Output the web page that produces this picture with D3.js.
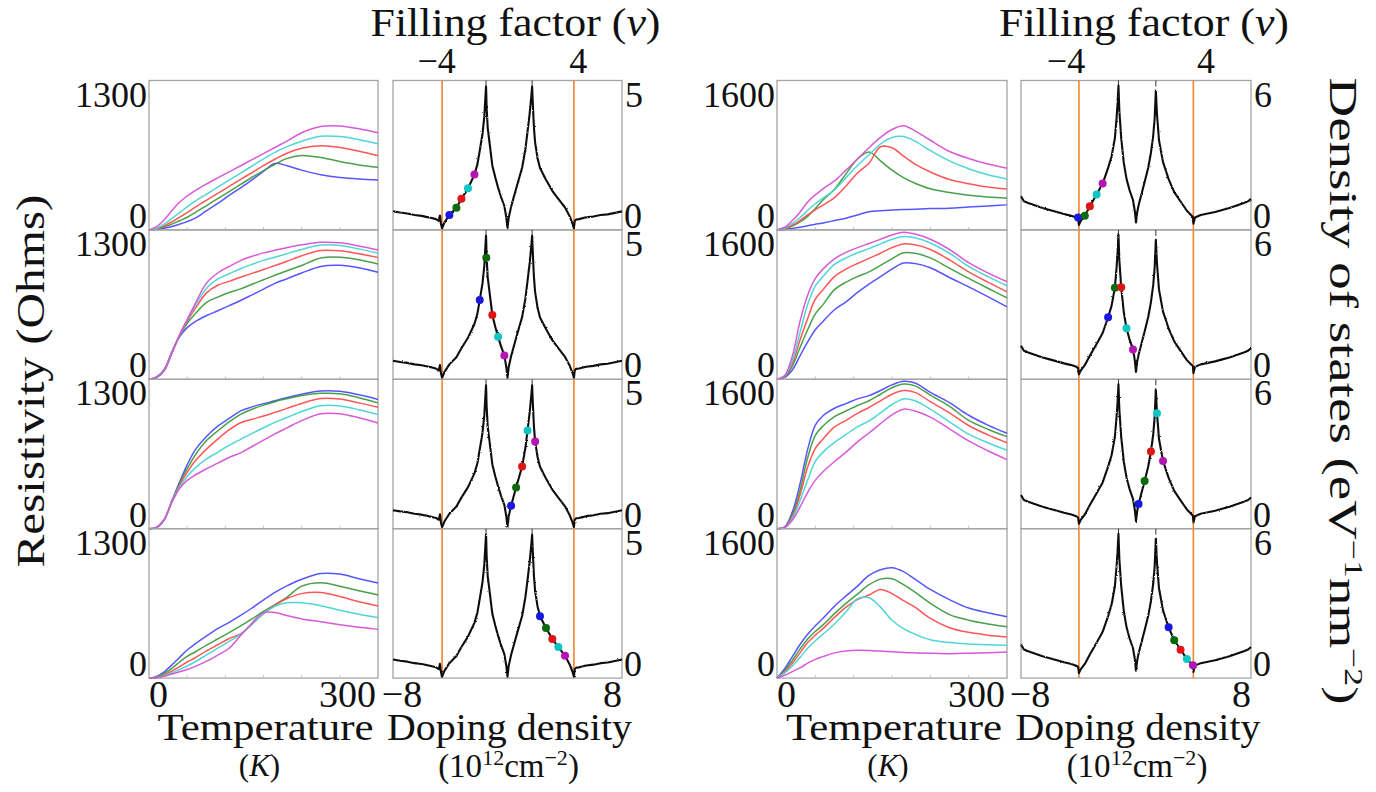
<!DOCTYPE html>
<html><head><meta charset="utf-8">
<script src="https://cdn.jsdelivr.net/npm/d3@7"></script>
<style>
body{margin:0;background:#fff}
svg{display:block}
text{font-family:'Liberation Serif','Times New Roman',Times,serif;fill:#111}
</style>
</head><body>
<svg id="c" width="1376" height="792"></svg>
<script>
// ---------------- DATA ----------------
const temps = [0,10,20,30,40,50,60,75,90,105,120,135,150,165,180,200,225,250,275,300];
const seriesNames = ["blue","green","red","cyan","magenta"];
const lineColors = ["#4d4dff","#3f9b3f","#ff4d4d","#48d4d4","#d651d6"];
const dotColors  = ["#1818e0","#0b6a0b","#e01414","#10c4c4","#b414b4"];

// Left group resistivity (Ohms), rows 1-4; each: blue, green, red, cyan, magenta
const resLeft1 = [
 [0,5,15,30,50,72,100,165,230,300,366,435,510,578,560,520,480,455,442,435],
 [0,8,25,50,80,110,148,210,272,334,396,458,515,570,620,648,630,595,565,545],
 [0,10,35,70,110,150,196,257,317,378,439,499,560,615,665,710,732,718,685,648],
 [0,15,50,100,150,200,248,310,372,433,495,556,618,675,722,772,815,812,785,750],
 [0,28,88,168,240,295,340,398,452,505,558,611,664,717,770,845,900,905,880,845]
];
const resLeft2 = [
 [0,20,85,240,370,450,500,553,597,641,686,735,784,835,873,925,982,992,970,931],
 [0,18,82,236,378,485,565,668,715,755,787,827,866,905,943,990,1055,1062,1040,1003],
 [0,16,80,233,382,505,610,750,818,852,888,922,955,990,1025,1075,1120,1118,1092,1061],
 [0,15,78,230,383,515,635,790,873,918,962,1000,1035,1062,1092,1130,1168,1165,1135,1096],
 [0,14,76,228,386,520,650,835,925,982,1033,1070,1100,1122,1145,1170,1192,1188,1160,1125]
];
const resLeft3 = [
 [0,12,80,242,405,555,680,800,892,959,1025,1060,1088,1113,1140,1170,1198,1195,1165,1125],
 [0,12,80,240,395,520,635,765,850,930,995,1040,1075,1105,1130,1160,1178,1175,1140,1095],
 [0,12,80,238,380,490,585,690,780,860,922,952,980,1012,1045,1090,1133,1128,1095,1057],
 [0,12,80,235,365,455,525,605,665,725,778,830,878,925,965,1020,1070,1068,1035,993],
 [0,12,80,230,350,420,465,520,570,620,660,715,770,825,875,940,1000,1000,965,920]
];
const resLeft4 = [
 [0,15,55,115,180,245,295,365,430,485,545,610,680,745,800,860,910,905,865,827],
 [0,10,40,85,140,190,225,285,340,395,455,515,580,640,700,800,830,800,760,724],
 [0,7,28,60,100,140,175,235,290,345,385,470,560,635,690,735,745,710,665,628],
 [0,5,20,45,75,105,140,200,260,320,380,470,560,625,655,655,630,590,555,526],
 [0,4,15,35,55,75,100,145,200,260,370,480,570,570,545,515,490,465,443,424]
];
// Right group resistivity (Ohms)
const resRight1 = [
 [0,5,15,28,45,60,75,100,125,160,195,205,212,218,222,228,233,245,256,268],
 [0,10,40,85,145,230,320,435,600,760,835,740,640,560,500,440,400,370,352,339],
 [0,15,50,100,160,215,265,345,470,610,715,890,880,790,705,620,540,495,460,439],
 [0,20,70,130,210,280,340,430,560,690,805,920,990,1000,950,850,740,655,590,546],
 [0,30,100,190,300,375,440,525,640,760,880,990,1075,1115,1060,960,840,765,705,661]
];
const resRight2 = [
 [0,20,100,250,400,530,620,745,830,930,1020,1100,1180,1245,1240,1195,1090,990,885,775],
 [0,25,140,340,530,700,800,960,1040,1100,1150,1220,1290,1355,1350,1300,1190,1080,975,872],
 [0,30,170,420,650,860,960,1100,1180,1240,1295,1350,1410,1450,1440,1390,1280,1150,1040,937],
 [0,35,200,500,800,1000,1100,1230,1300,1355,1400,1450,1500,1530,1515,1460,1350,1210,1100,1002],
 [0,40,250,620,900,1080,1180,1290,1360,1410,1455,1500,1545,1575,1555,1500,1390,1250,1140,1045]
];
const resRight3 = [
 [0,20,180,480,850,1110,1210,1290,1340,1390,1425,1480,1540,1578,1560,1460,1350,1215,1110,1022],
 [0,18,150,410,760,1000,1100,1200,1260,1320,1370,1440,1510,1550,1530,1430,1310,1160,1065,986],
 [0,16,130,360,660,860,960,1090,1160,1235,1298,1370,1440,1480,1460,1360,1240,1105,1005,921],
 [0,14,110,300,520,720,820,925,1010,1090,1155,1240,1330,1390,1370,1280,1145,1012,920,841],
 [0,12,90,230,390,520,610,720,820,930,1025,1125,1220,1280,1260,1195,1070,940,835,740]
];
const resRight4 = [
 [0,100,230,360,470,560,640,770,880,985,1100,1160,1182,1140,1060,950,840,750,700,657],
 [0,80,190,310,420,500,570,690,800,900,1000,1060,1065,1000,920,800,680,620,580,549],
 [0,65,160,270,380,460,530,650,760,840,890,950,905,830,760,640,540,490,460,441],
 [0,55,130,220,320,400,470,580,710,850,860,760,620,530,470,410,380,365,357,352],
 [0,30,70,110,160,200,230,270,290,298,296,290,283,275,270,265,262,266,272,280]
];

// Density of states vs doping density: [n (1e12 cm^-2), DOS (eV^-1 nm^-2)]
const dosLeft = [
 [-8,0.62],[-7.5,0.58],[-7,0.55],[-6.5,0.5],[-6,0.47],[-5.5,0.42],[-5,0.36],[-4.8,0.3],[-4.72,0.48],
 [-4.65,0.2],[-4.57,0.05],[-4.4,0.25],[-4.06,0.5],[-3.57,0.74],[-3.22,1.04],[-2.76,1.39],[-2.31,1.85],
 [-2.1,2.2],[-1.94,2.65],[-1.75,3.2],[-1.62,3.8],[-1.55,4.4],[-1.5,4.8],[-1.45,4.0],[-1.38,3.4],
 [-1.25,2.9],[-1.06,2.15],[-0.85,1.75],[-0.66,1.42],[-0.45,1.1],[-0.22,0.8],[-0.08,0.4],[0,0.05],
 [0.08,0.4],[0.25,0.77],[0.6,1.38],[1.02,2.08],[1.25,2.7],[1.4,3.29],[1.55,3.9],[1.65,4.4],[1.72,4.8],
 [1.78,4.1],[1.85,3.4],[1.93,2.92],[2.1,2.4],[2.27,2.07],[2.69,1.68],[3.13,1.31],[3.55,1.04],[4.02,0.75],
 [4.35,0.45],[4.55,0.2],[4.64,0.05],[4.7,0.3],[4.8,0.35],[5,0.36],[5.5,0.42],[6,0.45],[6.5,0.5],
 [7,0.52],[7.5,0.57],[8,0.62]
];
const dosRight = [
 [-8,1.35],[-7.8,1.15],[-7.5,1.08],[-7,0.98],[-6.5,0.88],[-6,0.8],[-5.5,0.72],[-5,0.64],[-4.5,0.57],
 [-4.15,0.5],[-4.03,0.45],[-3.97,0.2],[-3.85,0.35],[-3.56,0.57],[-3.21,0.95],[-2.74,1.42],[-2.32,1.86],
 [-1.94,2.49],[-1.7,2.95],[-1.47,3.68],[-1.35,4.5],[-1.28,5.1],[-1.22,5.8],[-1.16,4.8],[-1.03,3.7],
 [-0.85,2.7],[-0.66,2.05],[-0.45,1.6],[-0.21,1.2],[-0.08,0.75],[0,0.3],[0.08,0.7],[0.18,0.99],
 [0.6,1.92],[0.85,2.5],[1.04,3.1],[1.2,3.8],[1.3,4.5],[1.38,5.6],[1.46,4.64],[1.6,3.6],[1.88,2.72],
 [2.27,2.04],[2.66,1.52],[3.1,1.14],[3.54,0.77],[3.96,0.52],[4.0,0.25],[4.1,0.5],[4.5,0.6],[5,0.66],
 [5.5,0.72],[6,0.8],[6.5,0.88],[7,0.98],[7.5,1.08],[7.8,1.15],[8,1.25]
];
// Marked points on the DOS curve, per row: blue, green, red, cyan, magenta
const dotsLeft = [
 [[-4.06,0.5],[-3.57,0.74],[-3.22,1.04],[-2.76,1.39],[-2.31,1.85]],
 [[-1.94,2.65],[-1.48,4.07],[-1.06,2.15],[-0.66,1.42],[-0.22,0.8]],
 [[0.25,0.77],[0.6,1.38],[1.02,2.08],[1.4,3.29],[1.93,2.92]],
 [[2.27,2.07],[2.69,1.68],[3.13,1.31],[3.55,1.04],[4.02,0.75]]
];
const dotsRight = [
 [[-4.03,0.5],[-3.56,0.57],[-3.21,0.95],[-2.74,1.42],[-2.32,1.86]],
 [[-1.94,2.49],[-1.47,3.68],[-1.03,3.7],[-0.66,2.05],[-0.21,1.2]],
 [[0.18,0.99],[0.6,1.92],[1.04,3.1],[1.46,4.64],[1.88,2.72]],
 [[2.27,2.04],[2.66,1.52],[3.1,1.14],[3.54,0.77],[3.96,0.52]]
];
const bandEdgesLeft = [-4.57, 4.64];   // orange lines (n)
const bandEdgesRight = [-3.97, 3.99];
const vhsLeft = [-1.5, 1.72];          // van Hove peak ticks (n)
const vhsRight = [-1.22, 1.38];
const fillingTicks = [-4, 4];          // filling factor ticks
const nAtNu4Left = 4.95, nAtNu4Right = 4.87;
const tempDomain = [0, 300];
const dopingDomain = [-8, 8];
const resMaxLeft = 1300, resMaxRight = 1600;
const dosMaxLeft = 5, dosMaxRight = 6;

// ---------------- DRAW ----------------
const svg = d3.select("#c");
const defs = svg.append("defs");
const flt = defs.append("filter").attr("id","rough").attr("x","-5%").attr("y","-5%")
  .attr("width","110%").attr("height","110%");
flt.append("feTurbulence").attr("type","fractalNoise").attr("baseFrequency","0.8")
  .attr("numOctaves",1).attr("seed",3).attr("result","noise");
flt.append("feDisplacementMap").attr("in","SourceGraphic").attr("in2","noise")
  .attr("scale",2.2).attr("xChannelSelector","R").attr("yChannelSelector","G");

const top0 = 80.5, rowH = 149.4;
const rowY = d3.range(5).map(i => top0 + i * rowH);

const groups = [
 {res:[149,378], dos:[393,622], resMax:resMaxLeft, dosMax:dosMaxLeft,
  rows:[resLeft1,resLeft2,resLeft3,resLeft4], dots:dotsLeft, curve:dosLeft,
  edges:bandEdgesLeft, vhs:vhsLeft, n4:nAtNu4Left},
 {res:[777,1007], dos:[1021,1251], resMax:resMaxRight, dosMax:dosMaxRight,
  rows:[resRight1,resRight2,resRight3,resRight4], dots:dotsRight, curve:dosRight,
  edges:bandEdgesRight, vhs:vhsRight, n4:nAtNu4Right}
];

const borderCol = "#a4a4a4";
const orange = "#f4832c";
const numSize = 36;

groups.forEach(g => {
  const xR = d3.scaleLinear().domain(tempDomain).range(g.res);
  const xD = d3.scaleLinear().domain(dopingDomain).range(g.dos);
  const nu = d3.scaleLinear().domain([-4,4]).range([xD(-g.n4), xD(g.n4)]);

  for (let r = 0; r < 4; r++) {
    const y0 = rowY[r], y1 = rowY[r+1];
    const yR = d3.scaleLinear().domain([0, g.resMax]).range([y1, y0]);
    const yD = d3.scaleLinear().domain([0, g.dosMax]).range([y1, y0]);

    // resistivity panel
    const pr = svg.append("g");
    pr.append("rect").attr("x", g.res[0]).attr("y", y0)
      .attr("width", g.res[1]-g.res[0]).attr("height", y1-y0)
      .attr("fill","none").attr("stroke",borderCol).attr("stroke-width",1.3);
    [50,100,150,200,250].forEach(t => {
      pr.append("line").attr("x1",xR(t)).attr("x2",xR(t)).attr("y1",y1).attr("y2",y1-3)
        .attr("stroke","#c4c4c4").attr("stroke-width",1);
    });
    const line = d3.line().x((d,i) => xR(temps[i])).y(d => yR(d))
      .curve(d3.curveCatmullRom.alpha(0.5));
    g.rows[r].forEach((s, k) => {
      pr.append("path").attr("d", line(s)).attr("fill","none")
        .attr("stroke", lineColors[k]).attr("stroke-width",1.5).attr("stroke-opacity",0.95);
    });
    // labels
    pr.append("text").attr("x", g.res[0]-2).attr("y", y0+26).attr("text-anchor","end")
      .attr("font-size",numSize).text(String(g.resMax));
    pr.append("text").attr("x", g.res[0]-2).attr("y", y1-2).attr("text-anchor","end")
      .attr("font-size",numSize).text("0");

    // DOS panel
    const pd = svg.append("g");
    pd.append("rect").attr("x", g.dos[0]).attr("y", y0)
      .attr("width", g.dos[1]-g.dos[0]).attr("height", y1-y0)
      .attr("fill","none").attr("stroke",borderCol).attr("stroke-width",1.3);
    g.vhs.forEach(n => {
      pd.append("line").attr("x1",xD(n)).attr("x2",xD(n)).attr("y1",y0).attr("y2",y0+6)
        .attr("stroke","#333").attr("stroke-width",1);
    });
    g.edges.forEach(n => {
      pd.append("line").attr("x1",xD(n)).attr("x2",xD(n)).attr("y1",y0).attr("y2",y1)
        .attr("stroke",orange).attr("stroke-width",1.6);
    });
    const dline = d3.line().x(d => xD(d[0])).y(d => yD(d[1]));
    pd.append("path").attr("d", dline(g.curve)).attr("fill","none")
      .attr("stroke","#111").attr("stroke-width",2.1).attr("stroke-linejoin","round")
      .attr("filter","url(#rough)");
    g.dots[r].forEach((d, k) => {
      pd.append("circle").attr("cx", xD(d[0])).attr("cy", yD(d[1])).attr("r",4)
        .attr("fill", dotColors[k]);
    });
    pd.append("text").attr("x", g.dos[1]+3).attr("y", y0+26).attr("font-size",numSize)
      .text(String(g.dosMax));
    pd.append("text").attr("x", g.dos[1]+2).attr("y", y1-2).attr("font-size",numSize).text("0");
  }

  // bottom tick labels
  const yb = 707;
  svg.append("text").attr("x", xR(tempDomain[0])).attr("y", yb).attr("font-size",38)
    .text(String(tempDomain[0]));
  svg.append("text").attr("x", xR(tempDomain[1])-2).attr("y", yb).attr("font-size",38)
    .attr("text-anchor","end").text(String(tempDomain[1]));
  svg.append("text").attr("x", xD(dopingDomain[0])+9).attr("y", yb).attr("font-size",38)
    .attr("text-anchor","middle").text("\u2212" + Math.abs(dopingDomain[0]));
  svg.append("text").attr("x", xD(dopingDomain[1])).attr("y", yb).attr("font-size",38)
    .attr("text-anchor","end").text(String(dopingDomain[1]));

  // axis titles
  const tMid = (g.res[0]+g.res[1])/2, dMid = (g.dos[0]+g.dos[1])/2;
  svg.append("text").attr("x", tMid+2).attr("y", 740).attr("text-anchor","middle")
    .attr("font-size",38).attr("textLength",216).attr("lengthAdjust","spacingAndGlyphs")
    .text("Temperature");
  const kt = svg.append("text").attr("x", tMid-4).attr("y", 776).attr("text-anchor","middle")
    .attr("font-size",31);
  kt.append("tspan").text("(");
  kt.append("tspan").attr("font-style","italic").text("K");
  kt.append("tspan").text(")");
  svg.append("text").attr("x", dMid+2).attr("y", 740).attr("text-anchor","middle")
    .attr("font-size",38).attr("textLength",245).attr("lengthAdjust","spacingAndGlyphs")
    .text("Doping density");
  const dt = svg.append("text").attr("x", dMid+1).attr("y", 777).attr("text-anchor","middle")
    .attr("font-size",33);
  dt.append("tspan").text("(10");
  dt.append("tspan").attr("font-size",22).attr("dy",-12).text("12");
  dt.append("tspan").attr("dy",12).text("cm");
  dt.append("tspan").attr("font-size",22).attr("dy",-12).text("\u22122");
  dt.append("tspan").attr("dy",12).text(")");

  // top filling factor axis
  const ft = svg.append("text").attr("x", dMid+8).attr("y", 36).attr("text-anchor","middle")
    .attr("font-size",40).attr("textLength",290).attr("lengthAdjust","spacingAndGlyphs");
  ft.append("tspan").text("Filling factor (");
  ft.append("tspan").attr("font-style","italic").text("\u03bd");
  ft.append("tspan").text(")");
  fillingTicks.forEach(v => {
    svg.append("text").attr("x", nu(v)).attr("y", 73).attr("text-anchor","middle")
      .attr("font-size",36).text(v < 0 ? "\u2212" + Math.abs(v) : String(v));
  });
});

// global axis titles
svg.append("text").attr("transform","translate(44,381) rotate(-90)").attr("text-anchor","middle")
  .attr("font-size",39).attr("textLength",373).attr("lengthAdjust","spacingAndGlyphs")
  .text("Resistivity (Ohms)");
const dl = svg.append("text").attr("transform","translate(1330,391) rotate(90)")
  .attr("text-anchor","middle").attr("font-size",40)
  .attr("textLength",627).attr("lengthAdjust","spacingAndGlyphs");
dl.append("tspan").text("Density of states (eV");
dl.append("tspan").attr("font-size",26).attr("dy",-15).text("\u22121");
dl.append("tspan").attr("dy",15).text("nm");
dl.append("tspan").attr("font-size",26).attr("dy",-15).text("\u22122");
dl.append("tspan").attr("dy",15).text(")");
</script>
</body></html>
